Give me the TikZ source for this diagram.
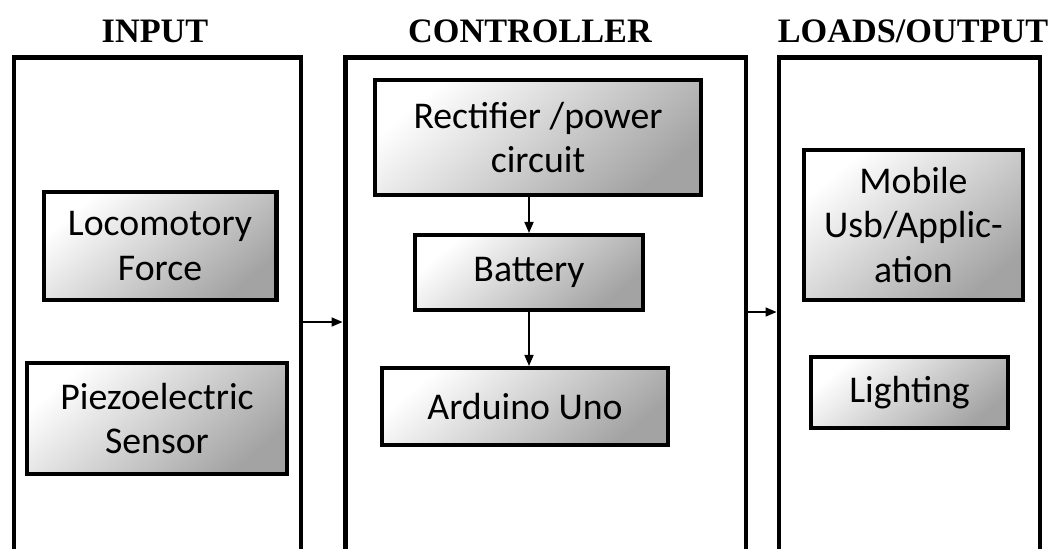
\documentclass[tikz,border=0pt]{standalone}
\usepackage{fontspec}
\setmainfont{Carlito}
\newfontfamily\ttlfont{Liberation Serif}
\usetikzlibrary{arrows.meta,calc}
\tikzset{
  frame/.style={rectangle,draw=black,line width=2.8pt,inner sep=0pt},
  blk/.style={rectangle,draw=black,line width=2.3pt,top color=white,bottom color=black!36,shading angle=40,
    align=center,inner sep=0pt,text=black,font=\fontsize{21.5}{25.5}\selectfont},
  ttl/.style={anchor=base,font=\ttlfont\bfseries\fontsize{19.5}{22}\selectfont},
  flow/.style={-{Triangle[length=2.2mm,width=1.8mm]},line width=0.9pt,black},
}
\begin{document}
\begin{tikzpicture}[x=0.02cm,y=-0.02cm]
  \useasboundingbox (0,0) rectangle (1055,548);
  % three columns, their frames run off the bottom of the page
  \node[frame,minimum width=5.74cm,minimum height=10.46cm](inp) at (157.5,318.5){};
  \node[frame,minimum width=8.02cm,minimum height=10.46cm](ctrl) at (545.5,318.5){};
  \node[frame,minimum width=5.22cm,minimum height=10.46cm](outp) at (909.5,318.5){};
  \node[ttl](tinp) at (155,42){INPUT}; \node[ttl](tctrl) at (530,42){CONTROLLER};
  \node[ttl](toutp) at (913,42){LOADS/OUTPUT};
  % input blocks
  \node[blk,minimum width=4.66cm,minimum height=2.16cm](loco) at (160,246){Locomotory\\Force};
  \node[blk,minimum width=5.2cm,minimum height=2.22cm](piezo) at (157,418.5){Piezoelectric\\Sensor};
  % controller chain
  \node[blk,minimum width=6.52cm,minimum height=2.3cm](rect) at (538,137.5){Rectifier /power\\circuit};
  \node[blk,minimum width=4.56cm,minimum height=1.5cm](batt) at (529,272.5){Battery};
  \node[blk,minimum width=5.72cm,minimum height=1.54cm](ard) at (525,406.5){Arduino Uno};
  \draw[flow](rect.south -| batt.north)--(batt.north);
  \draw[flow](batt.south)--(batt.south |- ard.north);
  % loads
  \node[blk,minimum width=4.38cm,minimum height=3.0cm](mob) at (913.5,225){Mobile\\Usb/Applic-\\ation};
  \node[blk,minimum width=3.94cm,minimum height=1.42cm](light) at (909.5,392.5){Lighting};
  \draw[flow](inp.east |- 0,322)--(ctrl.west |- 0,322);
  \draw[flow](ctrl.east |- 0,312)--(outp.west |- 0,312);
\end{tikzpicture}
\end{document}
